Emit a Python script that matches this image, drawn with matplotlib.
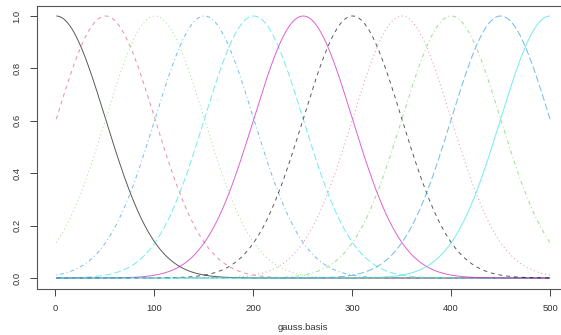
import numpy as np
import matplotlib
matplotlib.use("Agg")
import matplotlib.pyplot as plt

# Gaussian basis: evaluation grid, centres and common bandwidth
x_grid = np.arange(1, 501)
centers = np.linspace(1, 500, 11)
bandwidth = 49.9

# matplot-style colour and line-type cycles
palette = ["#000000", "#DF536B", "#61D04F", "#2297E6", "#28E2E5", "#CD0BBC"]
linetypes = [(0, ()), (0, (4, 4)), (0, (1, 3)), (0, (1, 3, 4, 3)), (0, (7, 3))]

xticks = [0, 100, 200, 300, 400, 500]
yticks = [0.0, 0.2, 0.4, 0.6, 0.8, 1.0]

plt.rcParams["font.family"] = ["Liberation Sans", "DejaVu Sans"]

W, H = 561, 335
fig = plt.figure(figsize=(W / 100, H / 100), dpi=100)
left, right, bottom, top = 36.5, 569.8, 288.5, 5.5
ax = fig.add_axes([left / W, 1 - bottom / H, (right - left) / W, (bottom - top) / H])

basis = np.exp(-0.5 * ((x_grid[:, None] - centers[None, :]) / bandwidth) ** 2)
for j in range(basis.shape[1]):
    ax.plot(x_grid, basis[:, j], color=palette[j % len(palette)],
            linestyle=linetypes[j % len(linetypes)], linewidth=0.7, alpha=0.65)

span = x_grid.max() - x_grid.min()
ax.set_xlim(x_grid.min() - 0.04 * span, x_grid.max() + 0.04 * span)
ax.set_ylim(-0.04, 1.04)
ax.set_xticks(xticks)
ax.set_xticklabels([str(v) for v in xticks])
ax.set_yticks(yticks)
ax.set_yticklabels([f"{v:.1f}" for v in yticks], rotation=90, va="center")
ax.tick_params(axis="both", length=5, width=0.7, color="#444444",
               labelsize=6.8, labelcolor="#333333", pad=6)
for s in ax.spines.values():
    s.set_color("#555555")
    s.set_linewidth(0.8)
ax.spines["right"].set_visible(False)
ax.set_xlabel("gauss.basis", fontsize=6.8, color="#333333", labelpad=7)

fig.savefig("out.png", dpi=100)
